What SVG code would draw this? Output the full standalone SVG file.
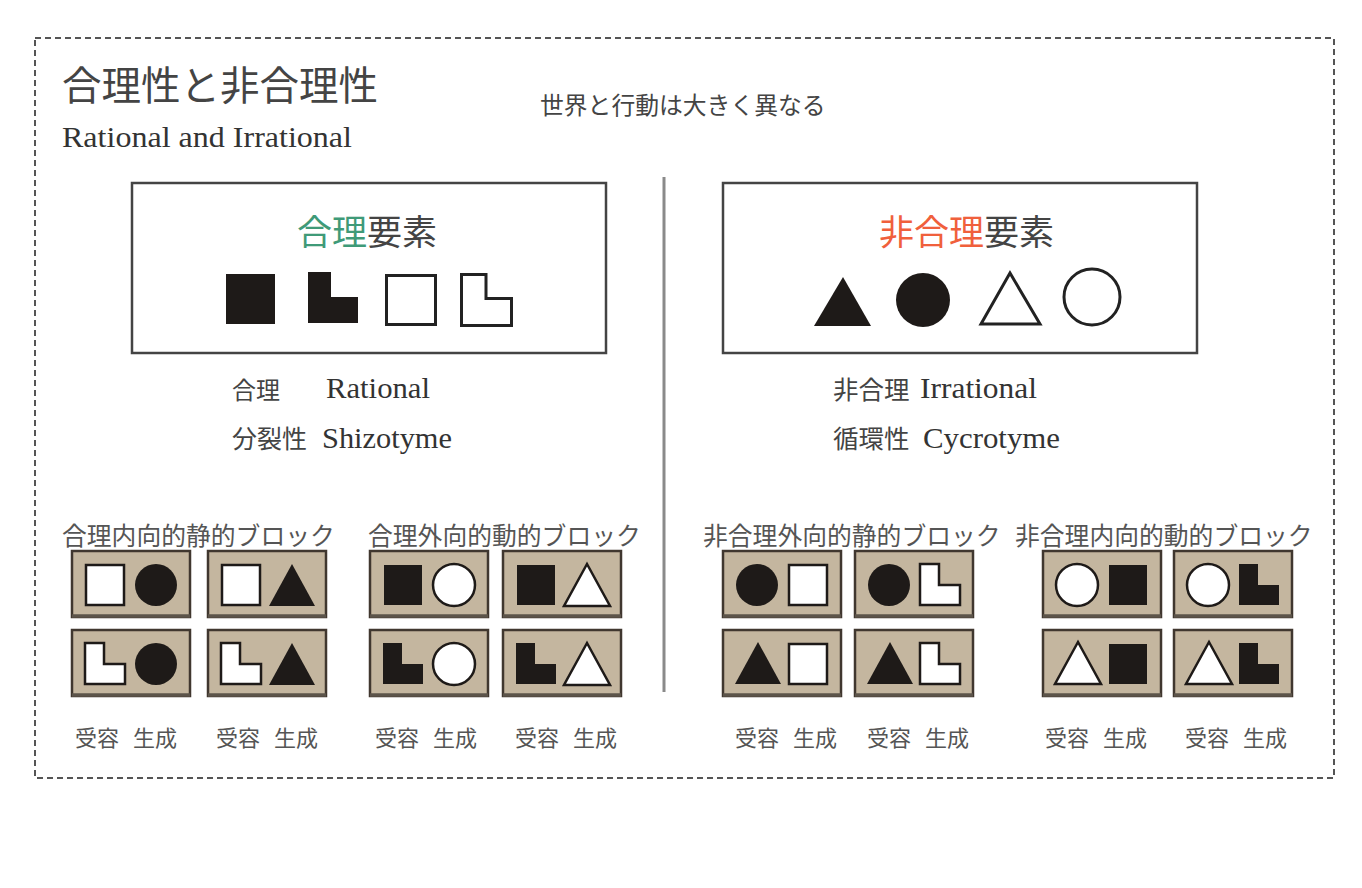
<svg xmlns="http://www.w3.org/2000/svg" xmlns:xlink="http://www.w3.org/1999/xlink" width="1362" height="888" viewBox="0 0 1362 888">
<style>
.jp{font-family:"Noto Sans CJK JP","Noto Sans",sans-serif;fill:#444}
.en{font-family:"Liberation Serif","DejaVu Serif",serif;fill:#333}
.lbl{font-family:"Noto Sans CJK JP",sans-serif;fill:#555;font-size:22px}
.grp{font-family:"Noto Sans CJK JP",sans-serif;fill:#555;font-size:24.8px}
.box{fill:#fff;stroke:#444;stroke-width:2.5}
.blk{fill:#c4b69f;stroke:#40372f;stroke-width:2.5}
.shd{stroke:#5c544a;stroke-width:3.5}
.w{fill:#fff;stroke:#1e1a18;stroke-width:2.5}
.b{fill:#1e1a18}
.wo{fill:#fff;stroke:#222;stroke-width:3}
</style>
<defs>
<rect id="sqL" x="14" y="14" width="38" height="40"/>
<rect id="sqR" x="66" y="14" width="38" height="40"/>
<path id="LL" d="M13,13 H32 V34 H53 V54 H13 Z"/>
<path id="LR" d="M65,13 H84 V34 H105 V54 H65 Z"/>
<circle id="cL" cx="34" cy="34" r="21"/>
<circle id="cR" cx="84" cy="34" r="21"/>
<path id="tL" d="M35,12 L58,54 L12,54 Z"/>
<path id="tR" d="M84,13 L107,55 L61,55 Z"/>
<g id="frame"><rect class="blk" x="0" y="0" width="118" height="66"/><line class="shd" x1="0" y1="65" x2="118" y2="65"/></g>
</defs>
<rect width="1362" height="888" fill="#fff"/>
<rect x="35" y="38" width="1299" height="740" fill="none" stroke="#555" stroke-width="2" stroke-dasharray="6,4"/>
<g id="title">
<text class="jp" x="62" y="100" font-size="39.5">合理性と非合理性</text>
<text class="en" x="62" y="147" font-size="30" textLength="290" lengthAdjust="spacingAndGlyphs">Rational and Irrational</text>
<text class="jp" x="540" y="114" font-size="23.8" fill="#555">世界と行動は大きく異なる</text>
</g>
<line id="divider" x1="664" y1="177" x2="664" y2="692" stroke="#8a8a8a" stroke-width="3"/>
<g id="rational-box">
<rect class="box" x="132" y="183" width="474" height="170"/>
<text class="jp" x="297" y="245" font-size="35"><tspan fill="#3f9a78">合理</tspan>要素</text>
<rect class="b" x="226" y="274" width="49" height="50"/>
<path class="b" d="M308,272 H331 V297 H358 V323 H308 Z"/>
<rect class="wo" x="386.5" y="275.5" width="49" height="49"/>
<path class="wo" d="M461.5,274.5 H486 V298.5 H511.5 V325.5 H461.5 Z"/>
</g>
<g id="irrational-box">
<rect class="box" x="723" y="183" width="474" height="170"/>
<text class="jp" x="879" y="245" font-size="35"><tspan fill="#f0603c">非合理</tspan>要素</text>
<path class="b" d="M843,277 L871,326 L814,326 Z"/>
<circle class="b" cx="923" cy="300" r="27"/>
<path class="wo" d="M1010,273 L1040,324 L981,324 Z"/>
<circle class="wo" cx="1092" cy="297" r="28" stroke-width="2.5"/>
</g>
<g id="rational-labels">
<text class="jp" x="232" y="399" font-size="24">合理</text>
<text class="en" x="326" y="398" font-size="30" textLength="104" lengthAdjust="spacingAndGlyphs">Rational</text>
<text class="jp" x="232" y="448" font-size="25">分裂性</text>
<text class="en" x="322" y="448" font-size="30" textLength="130" lengthAdjust="spacingAndGlyphs">Shizotyme</text>
</g>
<g id="irrational-labels">
<text class="jp" x="833" y="399" font-size="25.5">非合理</text>
<text class="en" x="920" y="398" font-size="30" textLength="117" lengthAdjust="spacingAndGlyphs">Irrational</text>
<text class="jp" x="833" y="448" font-size="25.5">循環性</text>
<text class="en" x="923" y="448" font-size="30" textLength="137" lengthAdjust="spacingAndGlyphs">Cycrotyme</text>
</g>
<g id="group1">
<text class="grp" x="62" y="545">合理内向的静的ブロック</text>
<g transform="translate(72,551)"><use xlink:href="#frame"/><use xlink:href="#sqL" class="w"/><use xlink:href="#cR" class="b"/></g>
<g transform="translate(208,551)"><use xlink:href="#frame"/><use xlink:href="#sqL" class="w"/><use xlink:href="#tR" class="b"/></g>
<g transform="translate(72,630)"><use xlink:href="#frame"/><use xlink:href="#LL" class="w"/><use xlink:href="#cR" class="b"/></g>
<g transform="translate(208,630)"><use xlink:href="#frame"/><use xlink:href="#LL" class="w"/><use xlink:href="#tR" class="b"/></g>
<text class="lbl" x="75" y="746">受容</text><text class="lbl" x="133" y="746">生成</text>
<text class="lbl" x="216" y="746">受容</text><text class="lbl" x="274" y="746">生成</text>
</g>
<g id="group2">
<text class="grp" x="368" y="545">合理外向的動的ブロック</text>
<g transform="translate(370,551)"><use xlink:href="#frame"/><use xlink:href="#sqL" class="b"/><use xlink:href="#cR" class="w"/></g>
<g transform="translate(503,551)"><use xlink:href="#frame"/><use xlink:href="#sqL" class="b"/><use xlink:href="#tR" class="w"/></g>
<g transform="translate(370,630)"><use xlink:href="#frame"/><use xlink:href="#LL" class="b"/><use xlink:href="#cR" class="w"/></g>
<g transform="translate(503,630)"><use xlink:href="#frame"/><use xlink:href="#LL" class="b"/><use xlink:href="#tR" class="w"/></g>
<text class="lbl" x="375" y="746">受容</text><text class="lbl" x="433" y="746">生成</text>
<text class="lbl" x="515" y="746">受容</text><text class="lbl" x="573" y="746">生成</text>
</g>
<g id="group3">
<text class="grp" x="703" y="545">非合理外向的静的ブロック</text>
<g transform="translate(723,551)"><use xlink:href="#frame"/><use xlink:href="#cL" class="b"/><use xlink:href="#sqR" class="w"/></g>
<g transform="translate(855,551)"><use xlink:href="#frame"/><use xlink:href="#cL" class="b"/><use xlink:href="#LR" class="w"/></g>
<g transform="translate(723,630)"><use xlink:href="#frame"/><use xlink:href="#tL" class="b"/><use xlink:href="#sqR" class="w"/></g>
<g transform="translate(855,630)"><use xlink:href="#frame"/><use xlink:href="#tL" class="b"/><use xlink:href="#LR" class="w"/></g>
<text class="lbl" x="735" y="746">受容</text><text class="lbl" x="793" y="746">生成</text>
<text class="lbl" x="867" y="746">受容</text><text class="lbl" x="925" y="746">生成</text>
</g>
<g id="group4">
<text class="grp" x="1015" y="545">非合理内向的動的ブロック</text>
<g transform="translate(1043,551)"><use xlink:href="#frame"/><use xlink:href="#cL" class="w"/><use xlink:href="#sqR" class="b"/></g>
<g transform="translate(1174,551)"><use xlink:href="#frame"/><use xlink:href="#cL" class="w"/><use xlink:href="#LR" class="b"/></g>
<g transform="translate(1043,630)"><use xlink:href="#frame"/><use xlink:href="#tL" class="w"/><use xlink:href="#sqR" class="b"/></g>
<g transform="translate(1174,630)"><use xlink:href="#frame"/><use xlink:href="#tL" class="w"/><use xlink:href="#LR" class="b"/></g>
<text class="lbl" x="1045" y="746">受容</text><text class="lbl" x="1103" y="746">生成</text>
<text class="lbl" x="1185" y="746">受容</text><text class="lbl" x="1243" y="746">生成</text>
</g>
<g id="connectors"/>
</svg>
